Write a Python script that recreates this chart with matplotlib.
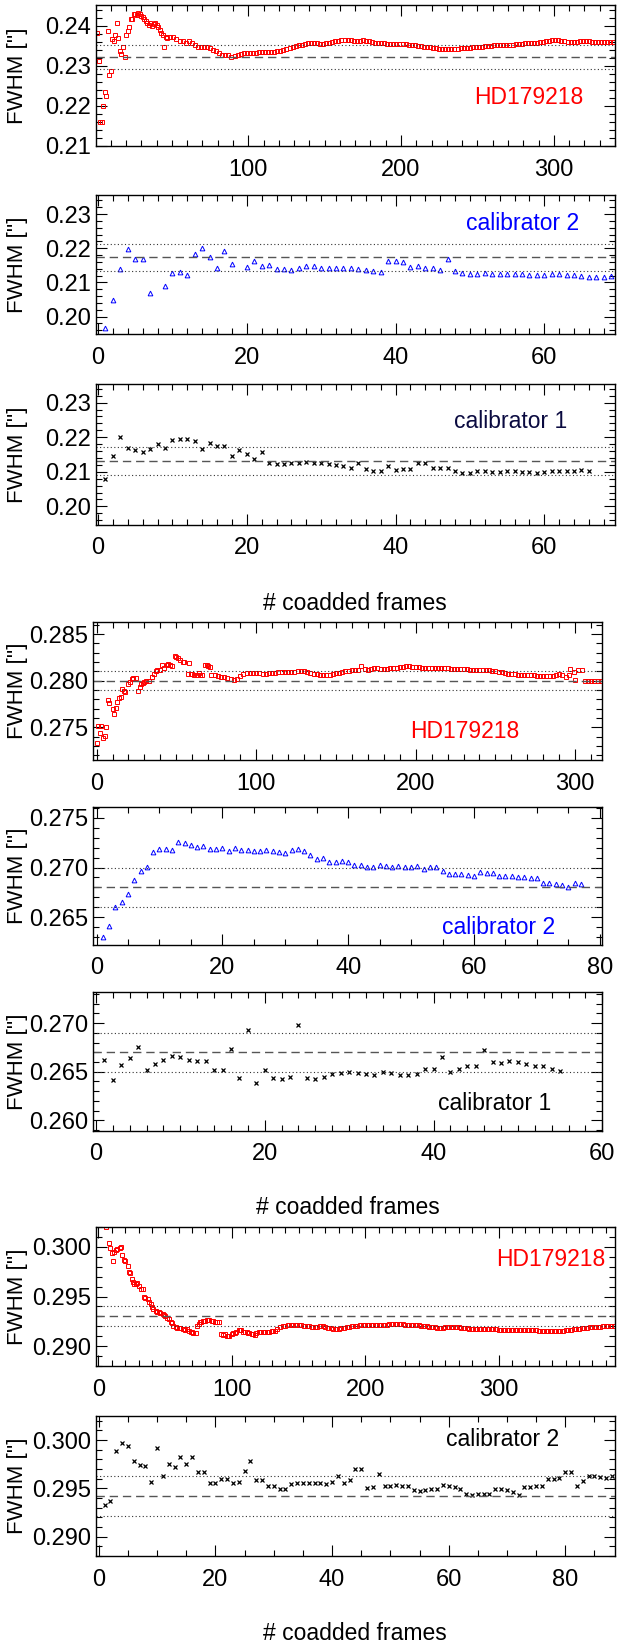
import matplotlib
matplotlib.use('Agg')
import matplotlib.pyplot as plt
from matplotlib.ticker import MultipleLocator, FormatStrFormatter

plt.rcParams['font.family'] = ['Liberation Sans', 'DejaVu Sans']

#
# Data: FWHM vs number of coadded frames
#
# --- group 1 ---
hd1_early = [0.2382, 0.2313, 0.2158, 0.2158, 0.2198, 0.2235, 0.2223, 0.2388, 0.2277, 0.2287,
             0.2367, 0.2361, 0.2377, 0.2407, 0.2369, 0.2336, 0.2330, 0.2348, 0.2323, 0.2377,
             0.2386, 0.2397, 0.2417, 0.2417, 0.2430, 0.2430, 0.2428, 0.2432, 0.2430, 0.2425,
             0.2422, 0.2417, 0.2411, 0.2408, 0.2403, 0.2407, 0.2400, 0.2405, 0.2408, 0.2403,
             0.2397, 0.2390, 0.2383, 0.2377, 0.2347, 0.2372]
hd1_late = [0.2369, 0.2373, 0.2372, 0.2367, 0.2363, 0.2361, 0.2358, 0.2361, 0.2357, 0.2352,
            0.2348, 0.2347, 0.2347, 0.2346, 0.2344, 0.2340, 0.2336, 0.2331, 0.2327, 0.2327,
            0.2326, 0.2323, 0.2325, 0.2327, 0.2329, 0.2331, 0.2332, 0.2332, 0.2333, 0.2333,
            0.2334, 0.2334, 0.2335, 0.2335, 0.2334, 0.2335, 0.2336, 0.2338, 0.2340, 0.2342,
            0.2345, 0.2347, 0.2349, 0.2351, 0.2353, 0.2355, 0.2357, 0.2357, 0.2356, 0.2356,
            0.2355, 0.2355, 0.2356, 0.2358, 0.2359, 0.2361, 0.2363, 0.2364, 0.2365, 0.2365,
            0.2364, 0.2362, 0.2362, 0.2363, 0.2364, 0.2363, 0.2361, 0.2359, 0.2358, 0.2357,
            0.2357, 0.2356, 0.2355, 0.2355, 0.2355, 0.2355, 0.2355, 0.2354, 0.2354, 0.2353,
            0.2352, 0.2351, 0.2350, 0.2349, 0.2348, 0.2347, 0.2346, 0.2345, 0.2344, 0.2343,
            0.2342, 0.2342, 0.2342, 0.2342, 0.2343, 0.2343, 0.2344, 0.2344, 0.2344, 0.2345,
            0.2346, 0.2347, 0.2348, 0.2348, 0.2349, 0.2350, 0.2350, 0.2351, 0.2351, 0.2351,
            0.2352, 0.2352, 0.2352, 0.2353, 0.2354, 0.2354, 0.2355, 0.2356, 0.2356, 0.2357,
            0.2358, 0.2358, 0.2359, 0.2360, 0.2361, 0.2363, 0.2365, 0.2365, 0.2364, 0.2363,
            0.2361, 0.2360, 0.2360, 0.2360, 0.2360, 0.2361, 0.2362, 0.2362, 0.2361, 0.2360,
            0.2360, 0.2359, 0.2359, 0.2359, 0.2359, 0.2359, 0.2359]
hd1_frames = list(range(1, 47)) + list(range(47, 341, 2))
hd1_fwhm = hd1_early + hd1_late

cal2a_frames = [1, 2, 3, 4, 5, 6, 7, 9, 10, 11, 12, 13, 14, 15, 16, 17, 18,
                20, 21, 22, 23, 24, 25, 26, 27, 28, 29, 30, 31, 32, 33, 34, 35, 36, 37, 38,
                39, 40, 41, 42, 43, 44, 45, 46, 47, 48, 49, 50, 51, 52, 53, 54, 55, 56, 57,
                58, 59, 60, 61, 62, 63, 64, 65, 66, 67, 68, 69, 70]
cal2a_fwhm = [0.1967, 0.2050, 0.2139, 0.2198, 0.2168, 0.2168, 0.2069, 0.2089, 0.2127, 0.2130,
              0.2121, 0.2184, 0.2201, 0.2174, 0.2142, 0.2191, 0.2154,
              0.2145, 0.2162, 0.2149, 0.2151, 0.2139, 0.2139, 0.2135, 0.2142, 0.2149, 0.2147,
              0.2141, 0.2142, 0.2142, 0.2141, 0.2141, 0.2139, 0.2135, 0.2133, 0.2132,
              0.2164, 0.2164, 0.2160, 0.2145, 0.2149, 0.2141, 0.2142, 0.2137, 0.2169, 0.2134,
              0.2127, 0.2126, 0.2126, 0.2127, 0.2125, 0.2124, 0.2124, 0.2125, 0.2126,
              0.2123, 0.2122, 0.2123, 0.2125, 0.2124, 0.2122, 0.2122, 0.2119, 0.2117, 0.2117,
              0.2117, 0.2119, 0.2120]

cal1a_frames = list(range(1, 67))
cal1a_fwhm = [0.2078, 0.2146, 0.2201, 0.2170, 0.2164, 0.2158, 0.2167, 0.2180, 0.2169, 0.2191,
              0.2194, 0.2194, 0.2189, 0.2167, 0.2184, 0.2175, 0.2175, 0.2146, 0.2164, 0.2151,
              0.2136, 0.2158, 0.2124, 0.2122, 0.2122, 0.2124, 0.2124, 0.2128, 0.2126, 0.2126,
              0.2122, 0.2119, 0.2116, 0.2111, 0.2124, 0.2107, 0.2102, 0.2101, 0.2116, 0.2104,
              0.2107, 0.2108, 0.2124, 0.2126, 0.2111, 0.2111, 0.2111, 0.2102, 0.2097, 0.2096,
              0.2102, 0.2102, 0.2099, 0.2099, 0.2101, 0.2101, 0.2099, 0.2099, 0.2096, 0.2099,
              0.2101, 0.2102, 0.2102, 0.2102, 0.2104, 0.2102]

# --- group 2 ---
hd2_frames = [0, 1, 2, 3, 4, 5, 6, 7, 8, 10, 11, 12, 13, 14, 15, 16, 17, 18, 20, 21,
              22, 23, 25, 26, 27, 28, 29, 30, 31, 33, 35, 36, 37, 38, 40, 41, 42, 44, 45, 46,
              47, 49, 50, 51, 52, 54, 55, 57, 58, 59, 60, 61, 63, 64, 65, 66, 68, 69, 70, 71,
              72] + list(range(74, 296, 2)) + [296, 297, 299, 300, 302, 304, 306, 308, 310,
              312, 314, 316]
hd2_fwhm = [0.2733, 0.2751, 0.2744, 0.2751, 0.2739, 0.2741, 0.2750, 0.2779, 0.2776, 0.2770,
            0.2764, 0.2771, 0.2777, 0.2781, 0.2783, 0.2791, 0.2789, 0.2788, 0.2796, 0.2799,
            0.2802, 0.2803, 0.2803, 0.2789, 0.2793, 0.2796, 0.2798, 0.2799, 0.2800, 0.2800,
            0.2804, 0.2807, 0.2810, 0.2811, 0.2811, 0.2817, 0.2814, 0.2817, 0.2818, 0.2817,
            0.2816, 0.2826, 0.2825, 0.2824, 0.2822, 0.2820, 0.2820, 0.2807, 0.2819, 0.2807,
            0.2807, 0.2806, 0.2806, 0.2808, 0.2806, 0.2806, 0.2817, 0.2817, 0.2816, 0.2815,
            0.2806,
            0.2806, 0.2805, 0.2804, 0.2804, 0.2803, 0.2802, 0.2801, 0.2802, 0.2805, 0.2807,
            0.2808, 0.2808, 0.2808, 0.2808, 0.2808, 0.2807, 0.2807, 0.2808, 0.2808, 0.2808,
            0.2809, 0.2809, 0.2809, 0.2809, 0.2809, 0.2809, 0.2810, 0.2810, 0.2810, 0.2809,
            0.2808, 0.2807, 0.2807, 0.2806, 0.2806, 0.2806, 0.2806, 0.2807, 0.2808, 0.2808,
            0.2809, 0.2810, 0.2810, 0.2811, 0.2811, 0.2812, 0.2816, 0.2813, 0.2812, 0.2813,
            0.2814, 0.2814, 0.2813, 0.2813, 0.2813, 0.2814, 0.2814, 0.2814, 0.2815, 0.2815,
            0.2816, 0.2816, 0.2815, 0.2815, 0.2815, 0.2814, 0.2814, 0.2814, 0.2814, 0.2814,
            0.2814, 0.2814, 0.2814, 0.2814, 0.2813, 0.2813, 0.2813, 0.2813, 0.2813, 0.2813,
            0.2812, 0.2812, 0.2812, 0.2812, 0.2811, 0.2811, 0.2811, 0.2810, 0.2810, 0.2809,
            0.2809, 0.2808, 0.2807, 0.2807, 0.2807, 0.2806, 0.2806, 0.2806, 0.2806, 0.2806,
            0.2806, 0.2805, 0.2805, 0.2805, 0.2805, 0.2805, 0.2805, 0.2806, 0.2807, 0.2806,
            0.2804,
            0.2806, 0.2813, 0.2809, 0.2801, 0.2811, 0.2811, 0.2800, 0.2800, 0.2800, 0.2800,
            0.2800, 0.2800]

cal2b_frames = list(range(1, 78))
cal2b_fwhm = [0.2630, 0.2641, 0.2660, 0.2665, 0.2673, 0.2687, 0.2697, 0.2701, 0.2716, 0.2719,
              0.2719, 0.2718, 0.2726, 0.2725, 0.2723, 0.2721, 0.2722, 0.2719, 0.2719, 0.2720,
              0.2717, 0.2720, 0.2718, 0.2718, 0.2717, 0.2717, 0.2718, 0.2717, 0.2716, 0.2715,
              0.2718, 0.2719, 0.2717, 0.2713, 0.2709, 0.2710, 0.2706, 0.2706, 0.2707, 0.2706,
              0.2703, 0.2703, 0.2701, 0.2701, 0.2703, 0.2702, 0.2701, 0.2702, 0.2701, 0.2701,
              0.2702, 0.2699, 0.2701, 0.2701, 0.2697, 0.2694, 0.2694, 0.2694, 0.2693, 0.2692,
              0.2696, 0.2695, 0.2695, 0.2692, 0.2692, 0.2691, 0.2690, 0.2690, 0.2689, 0.2689,
              0.2684, 0.2684, 0.2683, 0.2682, 0.2680, 0.2684, 0.2683]

cal1b_frames = list(range(1, 56))
cal1b_fwhm = [0.2662, 0.2641, 0.2657, 0.2664, 0.2675, 0.2652, 0.2658, 0.2662, 0.2666, 0.2665,
              0.2662, 0.2661, 0.2661, 0.2652, 0.2652, 0.2673, 0.2644, 0.2693, 0.2638, 0.2652,
              0.2644, 0.2643, 0.2645, 0.2698, 0.2644, 0.2643, 0.2645, 0.2648, 0.2649, 0.2650,
              0.2649, 0.2648, 0.2647, 0.2650, 0.2649, 0.2647, 0.2647, 0.2648, 0.2653, 0.2653,
              0.2665, 0.2650, 0.2653, 0.2656, 0.2656, 0.2672, 0.2660, 0.2659, 0.2661, 0.2660,
              0.2658, 0.2656, 0.2656, 0.2653, 0.2651]

# --- group 3 ---
hd3_frames = [6, 8, 9, 10, 11, 12, 13, 14, 16, 17, 18, 19, 20, 22, 23, 24, 25, 26, 27, 28,
              29, 30, 32, 33, 34, 35, 37, 38, 39, 40, 41, 43, 44, 45, 46, 48, 49, 50, 51, 53,
              54, 55, 56, 58, 59, 60, 61, 63, 64, 65, 66, 68, 69, 70, 71, 73, 74, 75, 76, 77,
              78, 80, 81, 82, 83, 85, 86, 87, 89, 90,
              92, 93, 95, 96, 97, 98, 100, 101, 102, 103, 105, 106, 107, 108, 110, 111, 112, 113,
              115, 116, 117, 118, 120, 121, 122, 123, 125, 126, 127, 128, 130, 131, 132, 134] \
             + list(range(136, 388, 2))
hd3_fwhm = [0.3020, 0.3004, 0.2999, 0.2994, 0.2986, 0.2995, 0.2997, 0.2998, 0.2999, 0.3000,
            0.2992, 0.2987, 0.2986, 0.2981, 0.2975, 0.2974, 0.2968, 0.2965, 0.2963, 0.2963,
            0.2964, 0.2961, 0.2958, 0.2958, 0.2950, 0.2948, 0.2947, 0.2944, 0.2942, 0.2939,
            0.2937, 0.2935, 0.2934, 0.2934, 0.2933, 0.2932, 0.2931, 0.2930, 0.2928, 0.2927,
            0.2924, 0.2923, 0.2920, 0.2919, 0.2918, 0.2918, 0.2918, 0.2917, 0.2917, 0.2916,
            0.2917, 0.2915, 0.2914, 0.2914, 0.2913, 0.2913, 0.2920, 0.2922, 0.2924, 0.2924,
            0.2925, 0.2925, 0.2926, 0.2926, 0.2926, 0.2925, 0.2925, 0.2924, 0.2924, 0.2924,
            0.2912, 0.2911, 0.2912, 0.2910, 0.2910, 0.2910, 0.2912, 0.2913, 0.2913, 0.2914,
            0.2916, 0.2916, 0.2916, 0.2914, 0.2914, 0.2914, 0.2913, 0.2913, 0.2912, 0.2912,
            0.2911, 0.2913, 0.2914, 0.2914, 0.2914, 0.2914, 0.2914, 0.2914, 0.2914, 0.2914,
            0.2915, 0.2915, 0.2915, 0.2917,
            0.2919, 0.2920, 0.2920, 0.2921, 0.2921, 0.2921, 0.2921, 0.2921, 0.2921, 0.2920,
            0.2920, 0.2920, 0.2919, 0.2919, 0.2919, 0.2920, 0.2920, 0.2919, 0.2918, 0.2918,
            0.2917, 0.2917, 0.2917, 0.2918, 0.2918, 0.2919, 0.2919, 0.2920, 0.2920, 0.2920,
            0.2921, 0.2921, 0.2921, 0.2921, 0.2921, 0.2921, 0.2921, 0.2921, 0.2921, 0.2921,
            0.2921, 0.2922, 0.2922, 0.2922, 0.2922, 0.2922, 0.2922, 0.2921, 0.2921, 0.2921,
            0.2921, 0.2921, 0.2921, 0.2920, 0.2920, 0.2920, 0.2919, 0.2919, 0.2919, 0.2918,
            0.2918, 0.2918, 0.2919, 0.2919, 0.2919, 0.2919, 0.2919, 0.2919, 0.2918, 0.2918,
            0.2918, 0.2917, 0.2917, 0.2917, 0.2917, 0.2917, 0.2917, 0.2917, 0.2917, 0.2917,
            0.2917, 0.2917, 0.2916, 0.2916, 0.2916, 0.2916, 0.2916, 0.2916, 0.2916, 0.2916,
            0.2916, 0.2916, 0.2916, 0.2916, 0.2916, 0.2916, 0.2916, 0.2915, 0.2915, 0.2915,
            0.2915, 0.2915, 0.2915, 0.2915, 0.2915, 0.2915, 0.2915, 0.2916, 0.2916, 0.2916,
            0.2917, 0.2917, 0.2917, 0.2918, 0.2918, 0.2918, 0.2919, 0.2919, 0.2919, 0.2919,
            0.2919, 0.2920, 0.2920, 0.2920, 0.2920, 0.2920]

cal2c_frames = list(range(1, 89))
cal2c_fwhm = [0.2933, 0.2937, 0.2989, 0.2997, 0.2994, 0.2978, 0.2974, 0.2973, 0.2957, 0.2992,
              0.2963, 0.2975, 0.2972, 0.2983, 0.2975, 0.2983, 0.2967, 0.2967, 0.2956, 0.2956,
              0.2960, 0.2960, 0.2956, 0.2957, 0.2968, 0.2978, 0.2959, 0.2959, 0.2952, 0.2952,
              0.2949, 0.2949, 0.2955, 0.2956, 0.2956, 0.2956, 0.2956, 0.2956, 0.2955, 0.2957,
              0.2963, 0.2956, 0.2959, 0.2970, 0.2970, 0.2950, 0.2951, 0.2965, 0.2952, 0.2953,
              0.2954, 0.2952, 0.2952, 0.2948, 0.2947, 0.2948, 0.2949, 0.2949, 0.2954, 0.2953,
              0.2951, 0.2949, 0.2944, 0.2943, 0.2944, 0.2944, 0.2944, 0.2949, 0.2949, 0.2948,
              0.2946, 0.2943, 0.2951, 0.2951, 0.2953, 0.2953, 0.2960, 0.2960, 0.2961, 0.2967,
              0.2967, 0.2953, 0.2958, 0.2963, 0.2963, 0.2962, 0.2961, 0.2963]

# mean FWHM and scatter per panel (dashed / dotted lines)
means = [0.2321, 0.2173, 0.2131, 0.2800, 0.2680, 0.2670, 0.2930, 0.2942]
scatter = [0.0030, 0.0040, 0.0040, 0.0010, 0.0020, 0.0020, 0.0010, 0.0021]
labels = ['HD179218', 'calibrator 2', 'calibrator 1',
          'HD179218', 'calibrator 2', 'calibrator 1',
          'HD179218', 'calibrator 2']

#
# Figure layout
#
W, H = 618, 1647
fig = plt.figure(figsize=(W / 100, H / 100), dpi=100)

red, blue, navy = '#ff0000', '#0000ff', '#0a0a40'
sq = dict(marker='s', ms=3.0, mfc='none', mec=red, mew=0.7, ls='none')
tri = dict(marker='^', ms=3.4, mfc='none', mec=blue, mew=0.7, ls='none')
cross = dict(marker='x', ms=2.8, mec='k', mew=0.9, ls='none')

# (x0, x1, y0, y1) in pixels, xlim, ylim, xmajor, xminor, ymajor, yminor, fmt
panels = [
    ((95.8, 614.9, 5, 146), (0.2, 340), (0.2099, 0.2452), 100, 10, 0.01, 0.002, '%.2f'),
    ((95.8, 614.9, 195, 334), (-0.3, 69.5), (0.1949, 0.2356), 20, 2, 0.01, 0.002, '%.2f'),
    ((95.8, 614.9, 384, 525), (-0.3, 69.5), (0.1946, 0.2354), 20, 2, 0.01, 0.002, '%.2f'),
    ((93.4, 602.3, 622, 760), (-2, 317), (0.2715, 0.2863), 100, 10, 0.005, 0.001, '%.3f'),
    ((93.4, 602.3, 807, 945), (-0.5, 80.4), (0.2622, 0.2761), 20, 5, 0.005, 0.001, '%.3f'),
    ((93.4, 602.3, 992, 1131), (-0.3, 60), (0.2589, 0.2732), 20, 2, 0.005, 0.001, '%.3f'),
    ((95.8, 614.9, 1227, 1366), (-2, 387), (0.2880, 0.3020), 100, 10, 0.005, 0.001, '%.3f'),
    ((95.8, 614.9, 1416, 1556), (-0.5, 88.5), (0.2880, 0.3025), 20, 5, 0.005, 0.001, '%.3f'),
]
series = [(hd1_frames, hd1_fwhm, sq), (cal2a_frames, cal2a_fwhm, tri),
          (cal1a_frames, cal1a_fwhm, cross), (hd2_frames, hd2_fwhm, sq),
          (cal2b_frames, cal2b_fwhm, tri), (cal1b_frames, cal1b_fwhm, cross),
          (hd3_frames, hd3_fwhm, sq), (cal2c_frames, cal2c_fwhm, cross)]
label_pos = [(529, 97), (523, 223), (511, 422), (465, 732),
             (499, 928), (495, 1104), (551, 1259), (503, 1440)]
label_col = [red, blue, navy, red, blue, 'k', red, 'k']

for i, (box, xl, yl, xma, xmi, yma, ymi, fmt) in enumerate(panels):
    x0, x1, y0, y1 = box
    ax = fig.add_axes([x0 / W, 1 - y1 / H, (x1 - x0) / W, (y1 - y0) / H])
    fr, fw, st = series[i]
    ax.plot(fr, fw, **st)
    ax.axhline(means[i], color='#555555', ls=(0, (6, 3.5)), lw=1.0)
    ax.axhline(means[i] + scatter[i], color='#333333', ls=(0, (1, 2.2)), lw=0.8)
    ax.axhline(means[i] - scatter[i], color='#333333', ls=(0, (1, 2.2)), lw=0.8)
    ax.set_xlim(xl)
    ax.set_ylim(yl)
    ax.xaxis.set_major_locator(MultipleLocator(xma))
    ax.xaxis.set_minor_locator(MultipleLocator(xmi))
    ax.yaxis.set_major_locator(MultipleLocator(yma))
    ax.yaxis.set_minor_locator(MultipleLocator(ymi))
    ax.yaxis.set_major_formatter(FormatStrFormatter(fmt))
    ax.tick_params(which='both', direction='in', top=True, right=True, width=0.8)
    ax.tick_params(which='major', length=8)
    ax.tick_params(which='minor', length=4)
    ax.tick_params(axis='x', labelsize=17, pad=9)
    ax.tick_params(axis='y', labelsize=17, pad=3.5)
    for s in ax.spines.values():
        s.set_linewidth(1.0)
    fig.text(18 / W, 1 - (y0 + y1) / 2 / H, "FWHM ['']", rotation=90,
             ha='center', va='center', fontsize=16)
    lx, ly = label_pos[i]
    fig.text(lx / W, 1 - ly / H, labels[i], color=label_col[i],
             ha='center', va='center', fontsize=16.5)

for y, xc in [(604, 355), (1207, 348), (1633, 355)]:
    fig.text(xc / W, 1 - y / H, '# coadded frames', ha='center', va='center', fontsize=16.5)

fig.savefig('out.png', dpi=100)
